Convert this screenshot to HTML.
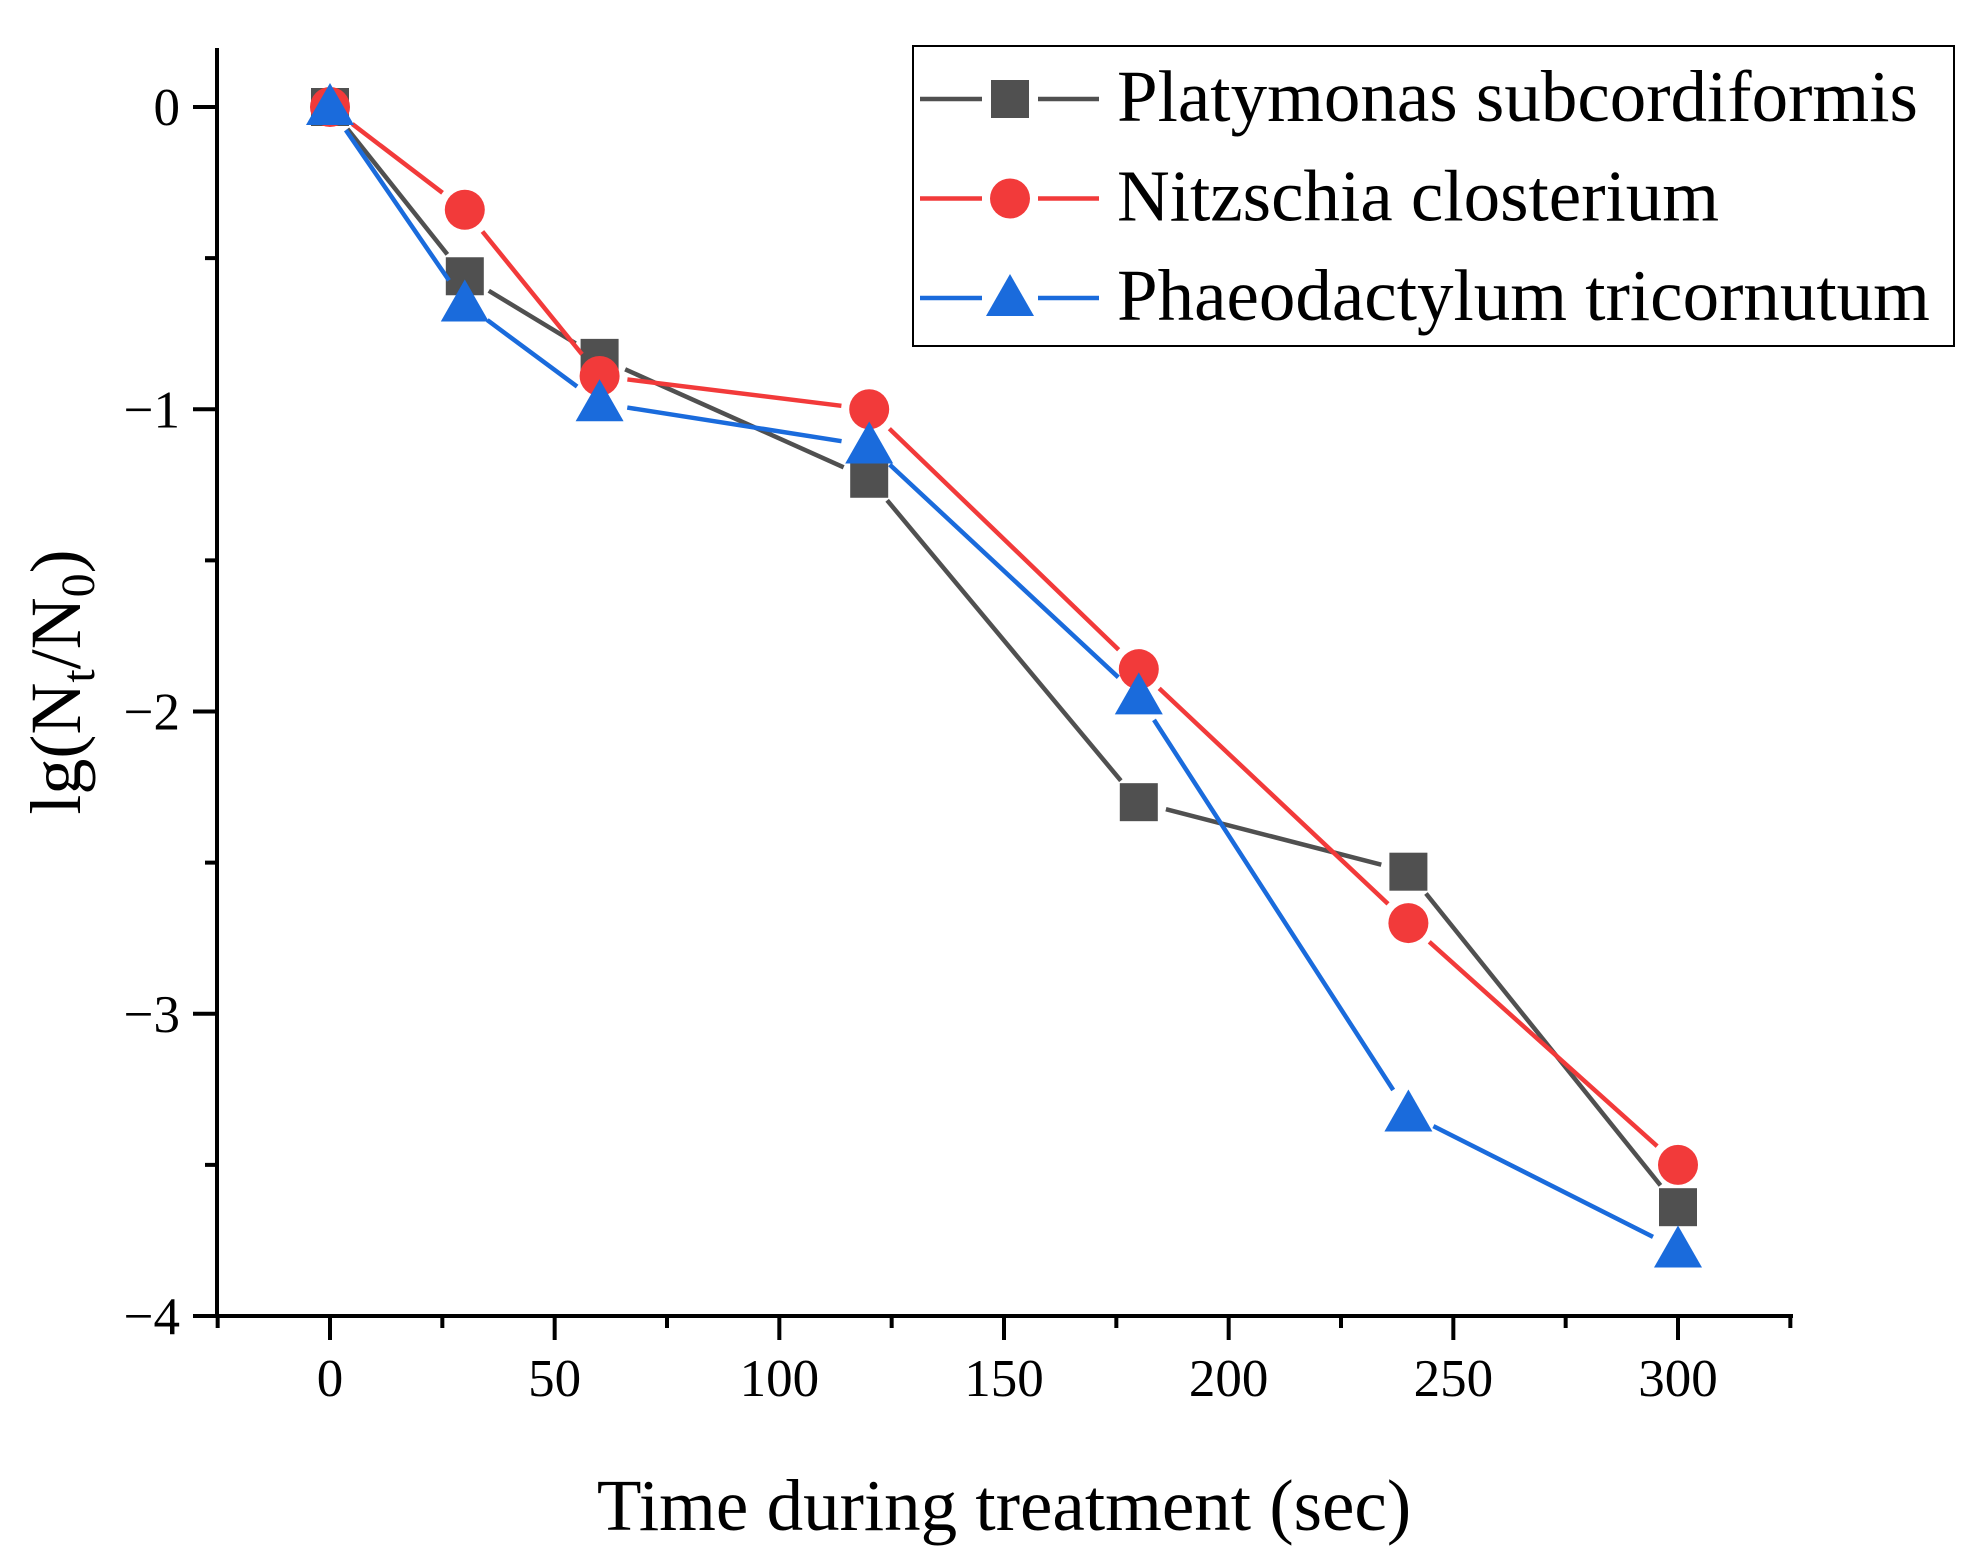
<!DOCTYPE html>
<html><head><meta charset="utf-8"><style>
html,body{margin:0;padding:0;background:#fff}
svg{display:block;font-family:"Liberation Serif",serif}
</style></head><body>
<svg id="chart" width="1978" height="1565" viewBox="0 0 1978 1565">
<g id="axes"></g>
<g id="series"></g>
<g id="legend"></g>
<text x="1004" y="1530" font-size="73" text-anchor="middle">Time during treatment (sec)</text>
<text transform="translate(80,682) rotate(-90)" font-size="72" text-anchor="middle">lg(N<tspan font-size="48" dy="14">t</tspan><tspan dy="-14">/N</tspan><tspan font-size="48" dy="14">0</tspan><tspan dy="-14">)</tspan></text>
</svg>
<script>
const times=[0,30,60,120,180,240,300];
const platy=[0,-0.56,-0.83,-1.23,-2.3,-2.53,-3.64];
const nitz=[0,-0.34,-0.89,-1.0,-1.86,-2.7,-3.5];
const phaeo=[0,-0.65,-0.98,-1.12,-1.95,-3.33,-3.78];
const xTicks=[0,50,100,150,200,250,300];
const yTicks=[0,-1,-2,-3,-4];
const seriesNames=["Platymonas subcordiformis","Nitzschia closterium","Phaeodactylum tricornutum"];
const NS="http://www.w3.org/2000/svg";
const X=v=>330+(v/300)*(1678-330);
const Y=v=>107+(-v/4)*(1316-107);
function mk(tag,attrs,parent){const e=document.createElementNS(NS,tag);for(const k in attrs)e.setAttribute(k,attrs[k]);parent.appendChild(e);return e;}
const axes=document.getElementById('axes');
let a=mk('path',{d:`M217 48 V1316 H1793`,stroke:'#000','stroke-width':4,fill:'none'},axes);


for(let v=-25;v<=325;v+=25){const major=v%50===0;const t=mk('line',{x1:X(v),x2:X(v),y1:1316,y2:1316+(major?24:12),stroke:'#000','stroke-width':4},axes);

}
xTicks.forEach(v=>{const t=mk('text',{x:X(v),y:1396,'font-size':53,'text-anchor':'middle'},axes);t.textContent=v;

});
for(let v=0;v>=-4;v-=0.5){const major=Number.isInteger(v);const t=mk('line',{x1:217,x2:217-(major?24:12),y1:Y(v),y2:Y(v),stroke:'#000','stroke-width':4},axes);

}
yTicks.forEach(v=>{const t=mk('text',{x:180,y:Y(v)+18,'font-size':53,'text-anchor':'end'},axes);t.textContent=v===0?'0':'\u2212'+(-v);

});
const colors=['#505050','#f23a3a','#1a6bdc'];
const shapes=['square','circle','triangle'];
function marker(g,shape,cx,cy,c){let e;
if(shape==='square')e=mk('rect',{x:cx-19,y:cy-19,width:38,height:38,fill:c},g);
else if(shape==='circle')e=mk('circle',{cx:cx,cy:cy,r:20,fill:c},g);
else e=mk('polygon',{points:`${cx},${cy-24} ${cx+24},${cy+18} ${cx-24},${cy+18}`,fill:c},g);
return e;}
const sg=document.getElementById('series');
[platy,nitz,phaeo].forEach((vals,i)=>{
const g=mk('g',{},sg);


for(let k=0;k<vals.length-1;k++){const x1=X(times[k]),y1=Y(vals[k]),x2=X(times[k+1]),y2=Y(vals[k+1]);
const dx=x2-x1,dy=y2-y1,L=Math.hypot(dx,dy),g0=28;
if(L>2*g0){const l=mk('line',{x1:x1+dx/L*g0,y1:y1+dy/L*g0,x2:x2-dx/L*g0,y2:y2-dy/L*g0,stroke:colors[i],'stroke-width':4.5},g);

}}
vals.forEach((v,k)=>{const m=marker(g,shapes[i],X(times[k]),Y(v),colors[i]);

});
});
const lg=document.getElementById('legend');
const box=mk('rect',{x:913,y:46,width:1041,height:300,fill:'none',stroke:'#000','stroke-width':2},lg);


seriesNames.forEach((n,i)=>{const y=99+i*99.5;
const g=mk('g',{},lg);


mk('line',{x1:920,x2:982,y1:y,y2:y,stroke:colors[i],'stroke-width':4.5},g);
mk('line',{x1:1038,x2:1099,y1:y,y2:y,stroke:colors[i],'stroke-width':4.5},g);
marker(g,shapes[i],1010,y,colors[i]);
const t=mk('text',{x:1117,y:y+22,'font-size':73},g);t.textContent=n;});
</script>
</body></html>
